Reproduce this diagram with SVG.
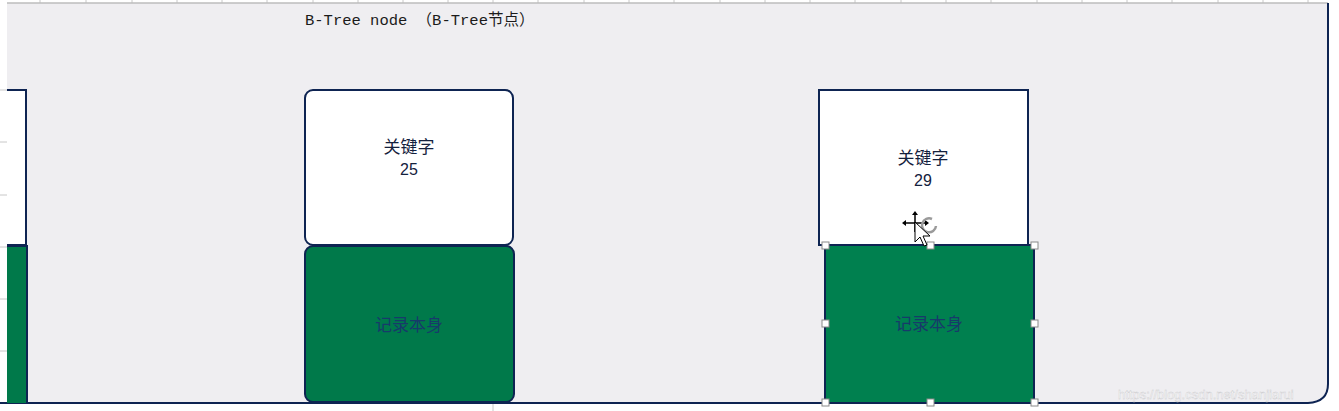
<svg xmlns="http://www.w3.org/2000/svg" width="1339" height="411" viewBox="0 0 1339 411">
<defs>
<style>
.key{fill:#ffffff;stroke:#0e2452;stroke-width:2}
.rec{stroke:#0e2452;stroke-width:2}
.t{font-family:"Noto Sans CJK SC","Liberation Sans",sans-serif;font-size:17px;fill:#14213d;text-anchor:middle}
.n{font-family:"Liberation Sans","Noto Sans CJK SC",sans-serif;font-size:16px;fill:#14213d;text-anchor:middle}
.r{font-family:"Noto Sans CJK SC","Liberation Sans",sans-serif;font-size:17px;fill:#173a6a;text-anchor:middle}
.grid{stroke:#c8c8c8;stroke-width:1}
.h{fill:#ffffff;stroke:#8a8a8a;stroke-width:1}
</style>
</defs>
<rect width="1339" height="411" fill="#ffffff"/>
<g id="grid">
<path class="grid" d="M40 0V3M86 0V3M132 0V3M177 0V3M222 0V3M267 0V3M313 0V3M358 0V3M403 0V3M448 0V3M493 0V3M538 0V3M584 0V3M629 0V3M674 0V3M720 0V3M765 0V3M810 0V3M855 0V3M901 0V3M946 0V3M991 0V3M1037 0V3M1082 0V3M1127 0V3M1172 0V3M1218 0V3M1263 0V3M1308 0V3"/>
<path class="grid" d="M0 90H7M0 142H7M0 195H7M0 247H7M0 299H7M0 351H7M493 403V411"/>
</g>
<g id="container">
<path d="M7 3H1328V384Q1328 402 1308 403H7Z" fill="#efeef1"/>
<path d="M7 3H1328" stroke="#bdbdbd" stroke-width="1.5" fill="none"/>
<path d="M1328 3V384Q1328 402 1308 403H0" stroke="#0e2452" stroke-width="2" fill="none"/>
<text x="305" y="25" font-family="'Liberation Mono','Noto Sans CJK SC',monospace" font-size="15.5" fill="#1b1b1b">B-Tree node （B-Tree节点）</text>
</g>
<g id="node-left">
<path d="M7 90H26V245H7" class="key"/>
<path d="M7 246H27V403H7Z" fill="#00794a" stroke="none"/>
<path d="M7 246H27V403" class="rec" fill="none"/>
</g>
<g id="node-25">
<rect x="305" y="90" width="208" height="155" rx="8" class="key"/>
<rect x="305" y="246" width="209" height="156" rx="8" class="rec" fill="#00794a"/>
<text x="409" y="153" class="t">关键字</text>
<text x="409" y="175" class="n">25</text>
<text x="409" y="331" class="r">记录本身</text>
</g>
<g id="node-29">
<rect x="819" y="90" width="209" height="155" class="key"/>
<rect x="825" y="245" width="209" height="158" class="rec" fill="#00804f"/>
<text x="923" y="164" class="t">关键字</text>
<text x="923" y="186" class="n">29</text>
<text x="929" y="330" class="r">记录本身</text>
<g id="handles">
<rect x="822" y="242" width="7" height="7" class="h"/>
<rect x="927" y="242" width="7" height="7" class="h"/>
<rect x="1031" y="242" width="7" height="7" class="h"/>
<rect x="822" y="320" width="7" height="7" class="h"/>
<rect x="1031" y="320" width="7" height="7" class="h"/>
<rect x="822" y="399" width="7" height="7" class="h"/>
<rect x="927" y="399" width="7" height="7" class="h"/>
<rect x="1031" y="399" width="7" height="7" class="h"/>
</g>
<g id="cursor">
<path d="M915 214V232M905 223H926" stroke="#000" stroke-width="1.5"/>
<path d="M915 211l-3 4h6zM902 223l4-3v6zM929 223l-4-3v6z" fill="#000"/>
<path d="M932 219a7 7 0 1 0 4 7" stroke="#9a9a9a" stroke-width="2.5" fill="none"/>
<path d="M915 222V242L920 237L924 246L927 245L923 236L930 236Z" fill="#ffffff" stroke="#000" stroke-width="1"/>
</g>
</g>
<text x="1118" y="399" font-family="'Liberation Sans',sans-serif" font-size="13" fill="#ffffff" stroke="#c9c9cc" stroke-width="0.4">https://blog.csdn.net/shanjiarui</text>
</svg>
